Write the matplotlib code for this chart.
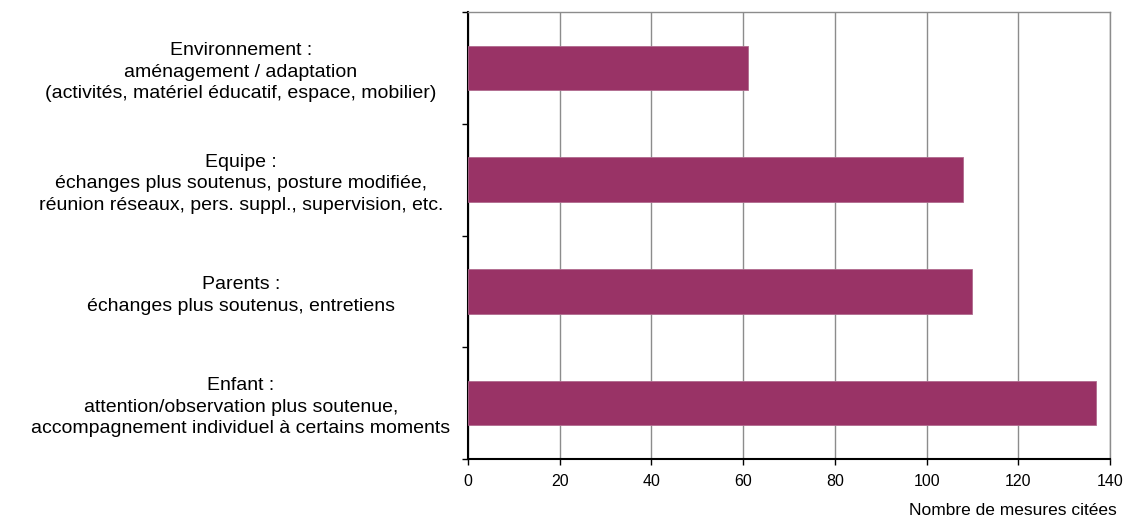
import matplotlib
matplotlib.use("Agg")
import matplotlib.pyplot as plt
from matplotlib.ticker import FixedLocator, NullFormatter

plt.rcParams['font.family'] = ['Liberation Sans', 'DejaVu Sans']

categories = [
    "Enfant :\nattention/observation plus soutenue,\naccompagnement individuel à certains moments",
    "Parents :\néchanges plus soutenus, entretiens",
    "Equipe :\néchanges plus soutenus, posture modifiée,\nréunion réseaux, pers. suppl., supervision, etc.",
    "Environnement :\naménagement / adaptation\n(activités, matériel éducatif, espace, mobilier)",
]
values = [137, 110, 108, 61]
xticks = [0, 20, 40, 60, 80, 100, 120, 140]
xlabel = "Nombre de mesures citées"

W, H = 1129, 524
fig = plt.figure(figsize=(W / 100, H / 100), dpi=100)
ax = fig.add_axes([468 / W, (H - 459) / H, (1110 - 468) / W, (459 - 12) / H])

pos = list(range(len(categories)))
ax.barh(pos, values, height=0.4, color='#993366', edgecolor='#b06a8e', linewidth=0.6, zorder=3)

ax.set_xlim(0, 140)
ax.set_ylim(-0.5, len(categories) - 0.5)
ax.set_xticks(xticks)
ax.set_xticklabels([str(t) for t in xticks], fontsize=11.5)
ax.xaxis.grid(True, color='#8c8c8c', linewidth=1.0, zorder=0)
ax.tick_params(axis='x', direction='out', length=4, width=1, pad=7, color='black')

ax.set_yticks(pos)
ax.set_yticklabels(categories, fontsize=14, ha='center', multialignment='center',
                   linespacing=1.35)
ax.tick_params(axis='y', which='major', length=0, pad=(468 - 241) * 0.72)
ax.yaxis.set_minor_locator(FixedLocator([p - 0.5 for p in pos] + [len(pos) - 0.5]))
ax.yaxis.set_minor_formatter(NullFormatter())
ax.tick_params(axis='y', which='minor', direction='out', length=4, width=1, color='black')

for s in ['top', 'right']:
    ax.spines[s].set_color('#8c8c8c')
    ax.spines[s].set_linewidth(1.0)
for s in ['left', 'bottom']:
    ax.spines[s].set_color('black')
    ax.spines[s].set_linewidth(1.5)

fig.text(1117 / W, 1 - 515 / H, xlabel, ha='right', va='baseline', fontsize=12.5)

fig.savefig("out.png", dpi=100)
